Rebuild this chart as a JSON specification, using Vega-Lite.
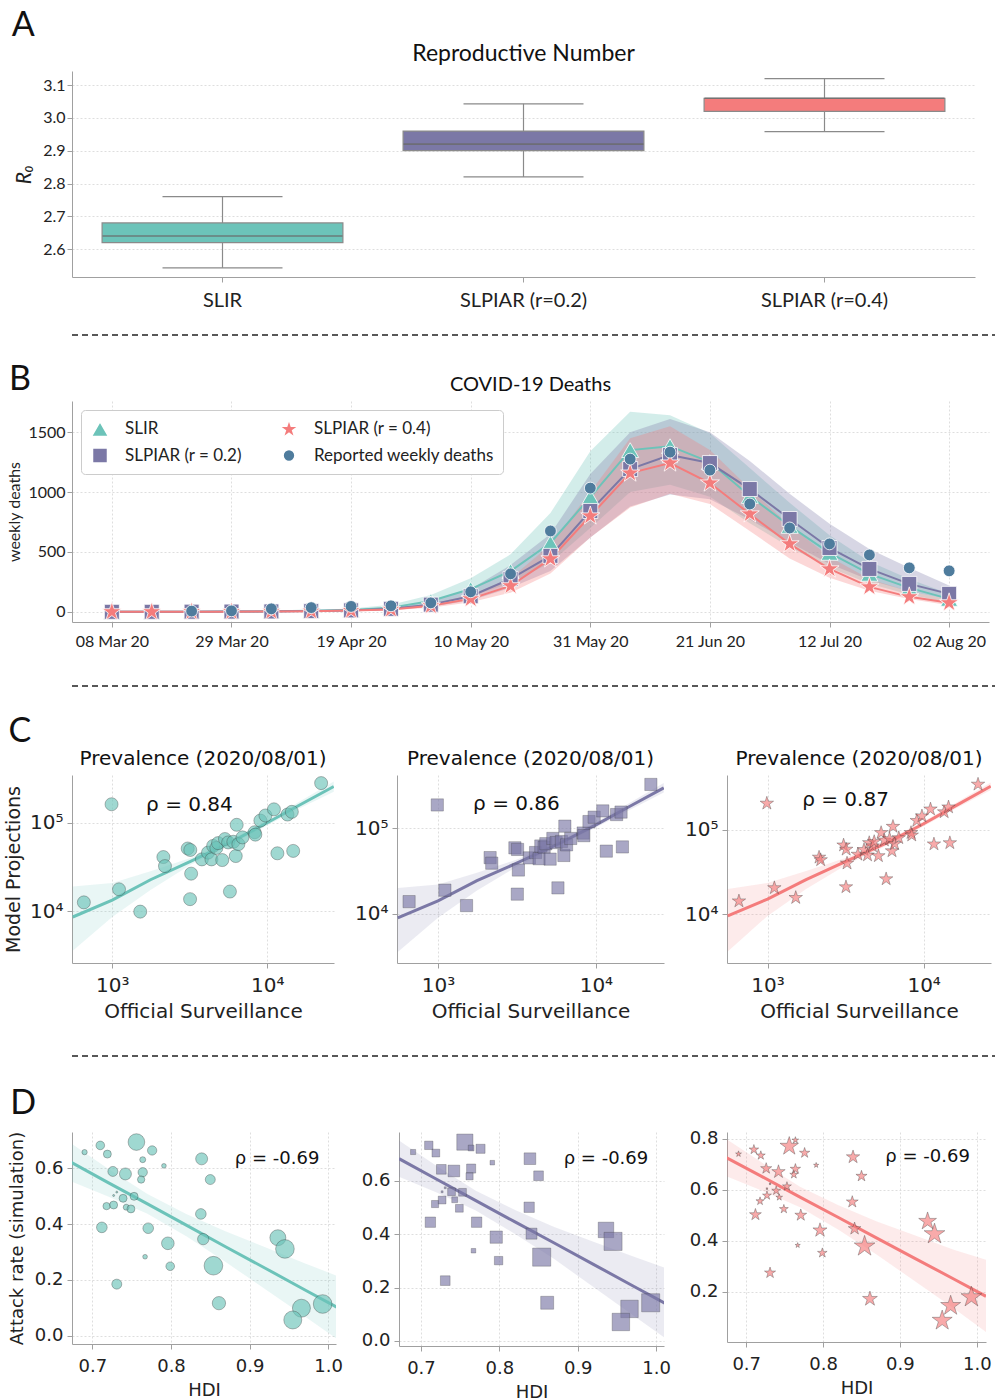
{
  "$schema": "https://vega.github.io/schema/vega-lite/v6.json",
  "background": "white",
  "padding": {"left": 4, "top": 9, "right": 0, "bottom": 0},
  "spacing": 10,
  "resolve": {
    "scale": {"color": "independent", "shape": "independent", "size": "independent", "fill": "independent", "stroke": "independent"},
    "legend": {"color": "independent", "shape": "independent", "size": "independent", "fill": "independent", "stroke": "independent"}
  },
  "config": {
    "view": {"stroke": null},
    "font": "Lato",
    "axis": {"domainColor": "#a0a0a0", "tickColor": "#a0a0a0", "gridColor": "#d6d6d6", "gridDash": [2, 2], "gridWidth": 0.8, "labelColor": "#222", "titleColor": "#222", "titleFontWeight": "normal", "labelFlush": false},
    "title": {"fontWeight": "normal", "color": "#111"},
    "legend": {"labelColor": "#222"}
  },
  "datasets": {
    "r0": [
      {"model": "SLIR", "lo": 2.543, "q1": 2.62, "med": 2.64, "q3": 2.68, "hi": 2.76},
      {"model": "SLPIAR (r=0.2)", "lo": 2.82, "q1": 2.90, "med": 2.92, "q3": 2.96, "hi": 3.043},
      {"model": "SLPIAR (r=0.4)", "lo": 2.958, "q1": 3.02, "med": 3.06, "q3": 3.06, "hi": 3.12}
    ],
    "deaths": [
      {"d": "2020-03-08", "s": "SLIR", "v": 0, "lo": 0, "hi": 1},
      {"d": "2020-03-15", "s": "SLIR", "v": 0, "lo": 0, "hi": 1},
      {"d": "2020-03-22", "s": "SLIR", "v": 1, "lo": 0, "hi": 3},
      {"d": "2020-03-29", "s": "SLIR", "v": 2, "lo": 1, "hi": 5},
      {"d": "2020-04-05", "s": "SLIR", "v": 4, "lo": 2, "hi": 8},
      {"d": "2020-04-12", "s": "SLIR", "v": 8, "lo": 5, "hi": 15},
      {"d": "2020-04-19", "s": "SLIR", "v": 15, "lo": 10, "hi": 28},
      {"d": "2020-04-26", "s": "SLIR", "v": 35, "lo": 25, "hi": 60},
      {"d": "2020-05-03", "s": "SLIR", "v": 90, "lo": 60, "hi": 140},
      {"d": "2020-05-10", "s": "SLIR", "v": 190, "lo": 130, "hi": 280},
      {"d": "2020-05-17", "s": "SLIR", "v": 340, "lo": 240, "hi": 480},
      {"d": "2020-05-24", "s": "SLIR", "v": 575, "lo": 410, "hi": 825},
      {"d": "2020-05-31", "s": "SLIR", "v": 958, "lo": 700, "hi": 1340},
      {"d": "2020-06-07", "s": "SLIR", "v": 1350, "lo": 1000, "hi": 1670},
      {"d": "2020-06-14", "s": "SLIR", "v": 1383, "lo": 1060, "hi": 1640},
      {"d": "2020-06-21", "s": "SLIR", "v": 1250, "lo": 960, "hi": 1490},
      {"d": "2020-06-28", "s": "SLIR", "v": 967, "lo": 740, "hi": 1200},
      {"d": "2020-07-05", "s": "SLIR", "v": 717, "lo": 540, "hi": 910},
      {"d": "2020-07-12", "s": "SLIR", "v": 492, "lo": 370, "hi": 640},
      {"d": "2020-07-19", "s": "SLIR", "v": 317, "lo": 235, "hi": 420},
      {"d": "2020-07-26", "s": "SLIR", "v": 200, "lo": 145, "hi": 275},
      {"d": "2020-08-02", "s": "SLIR", "v": 108, "lo": 75, "hi": 150},
      {"d": "2020-03-08", "s": "SLPIAR (r = 0.2)", "v": 0, "lo": 0, "hi": 1},
      {"d": "2020-03-15", "s": "SLPIAR (r = 0.2)", "v": 0, "lo": 0, "hi": 1},
      {"d": "2020-03-22", "s": "SLPIAR (r = 0.2)", "v": 1, "lo": 0, "hi": 2},
      {"d": "2020-03-29", "s": "SLPIAR (r = 0.2)", "v": 2, "lo": 1, "hi": 4},
      {"d": "2020-04-05", "s": "SLPIAR (r = 0.2)", "v": 3, "lo": 2, "hi": 6},
      {"d": "2020-04-12", "s": "SLPIAR (r = 0.2)", "v": 6, "lo": 4, "hi": 10},
      {"d": "2020-04-19", "s": "SLPIAR (r = 0.2)", "v": 12, "lo": 8, "hi": 20},
      {"d": "2020-04-26", "s": "SLPIAR (r = 0.2)", "v": 25, "lo": 18, "hi": 40},
      {"d": "2020-05-03", "s": "SLPIAR (r = 0.2)", "v": 60, "lo": 42, "hi": 90},
      {"d": "2020-05-10", "s": "SLPIAR (r = 0.2)", "v": 130, "lo": 95, "hi": 190},
      {"d": "2020-05-17", "s": "SLPIAR (r = 0.2)", "v": 275, "lo": 200, "hi": 390},
      {"d": "2020-05-24", "s": "SLPIAR (r = 0.2)", "v": 467, "lo": 340, "hi": 650},
      {"d": "2020-05-31", "s": "SLPIAR (r = 0.2)", "v": 842, "lo": 620, "hi": 1150},
      {"d": "2020-06-07", "s": "SLPIAR (r = 0.2)", "v": 1192, "lo": 880, "hi": 1500},
      {"d": "2020-06-14", "s": "SLPIAR (r = 0.2)", "v": 1308, "lo": 980, "hi": 1610},
      {"d": "2020-06-21", "s": "SLPIAR (r = 0.2)", "v": 1242, "lo": 940, "hi": 1500},
      {"d": "2020-06-28", "s": "SLPIAR (r = 0.2)", "v": 1025, "lo": 770, "hi": 1260},
      {"d": "2020-07-05", "s": "SLPIAR (r = 0.2)", "v": 775, "lo": 580, "hi": 985},
      {"d": "2020-07-12", "s": "SLPIAR (r = 0.2)", "v": 533, "lo": 400, "hi": 735},
      {"d": "2020-07-19", "s": "SLPIAR (r = 0.2)", "v": 358, "lo": 265, "hi": 525},
      {"d": "2020-07-26", "s": "SLPIAR (r = 0.2)", "v": 233, "lo": 170, "hi": 367},
      {"d": "2020-08-02", "s": "SLPIAR (r = 0.2)", "v": 150, "lo": 105, "hi": 220},
      {"d": "2020-03-08", "s": "SLPIAR (r = 0.4)", "v": 0, "lo": 0, "hi": 1},
      {"d": "2020-03-15", "s": "SLPIAR (r = 0.4)", "v": 0, "lo": 0, "hi": 1},
      {"d": "2020-03-22", "s": "SLPIAR (r = 0.4)", "v": 1, "lo": 0, "hi": 2},
      {"d": "2020-03-29", "s": "SLPIAR (r = 0.4)", "v": 1, "lo": 0, "hi": 2},
      {"d": "2020-04-05", "s": "SLPIAR (r = 0.4)", "v": 3, "lo": 2, "hi": 5},
      {"d": "2020-04-12", "s": "SLPIAR (r = 0.4)", "v": 5, "lo": 3, "hi": 8},
      {"d": "2020-04-19", "s": "SLPIAR (r = 0.4)", "v": 10, "lo": 6, "hi": 15},
      {"d": "2020-04-26", "s": "SLPIAR (r = 0.4)", "v": 20, "lo": 13, "hi": 28},
      {"d": "2020-05-03", "s": "SLPIAR (r = 0.4)", "v": 50, "lo": 35, "hi": 68},
      {"d": "2020-05-10", "s": "SLPIAR (r = 0.4)", "v": 108, "lo": 80, "hi": 140},
      {"d": "2020-05-17", "s": "SLPIAR (r = 0.4)", "v": 217, "lo": 160, "hi": 280},
      {"d": "2020-05-24", "s": "SLPIAR (r = 0.4)", "v": 442, "lo": 320, "hi": 560},
      {"d": "2020-05-31", "s": "SLPIAR (r = 0.4)", "v": 800, "lo": 620, "hi": 1000},
      {"d": "2020-06-07", "s": "SLPIAR (r = 0.4)", "v": 1158, "lo": 870, "hi": 1450},
      {"d": "2020-06-14", "s": "SLPIAR (r = 0.4)", "v": 1242, "lo": 985, "hi": 1550},
      {"d": "2020-06-21", "s": "SLPIAR (r = 0.4)", "v": 1075, "lo": 900, "hi": 1350},
      {"d": "2020-06-28", "s": "SLPIAR (r = 0.4)", "v": 817, "lo": 675, "hi": 1030},
      {"d": "2020-07-05", "s": "SLPIAR (r = 0.4)", "v": 567, "lo": 445, "hi": 720},
      {"d": "2020-07-12", "s": "SLPIAR (r = 0.4)", "v": 358, "lo": 285, "hi": 460},
      {"d": "2020-07-19", "s": "SLPIAR (r = 0.4)", "v": 208, "lo": 175, "hi": 275},
      {"d": "2020-07-26", "s": "SLPIAR (r = 0.4)", "v": 125, "lo": 108, "hi": 170},
      {"d": "2020-08-02", "s": "SLPIAR (r = 0.4)", "v": 75, "lo": 55, "hi": 105},
      {"d": "2020-03-22", "s": "Reported weekly deaths", "v": 6},
      {"d": "2020-03-29", "s": "Reported weekly deaths", "v": 8},
      {"d": "2020-04-05", "s": "Reported weekly deaths", "v": 25},
      {"d": "2020-04-12", "s": "Reported weekly deaths", "v": 35},
      {"d": "2020-04-19", "s": "Reported weekly deaths", "v": 45},
      {"d": "2020-04-26", "s": "Reported weekly deaths", "v": 50},
      {"d": "2020-05-03", "s": "Reported weekly deaths", "v": 75},
      {"d": "2020-05-10", "s": "Reported weekly deaths", "v": 167},
      {"d": "2020-05-17", "s": "Reported weekly deaths", "v": 317},
      {"d": "2020-05-24", "s": "Reported weekly deaths", "v": 675},
      {"d": "2020-05-31", "s": "Reported weekly deaths", "v": 1033},
      {"d": "2020-06-07", "s": "Reported weekly deaths", "v": 1275},
      {"d": "2020-06-14", "s": "Reported weekly deaths", "v": 1333},
      {"d": "2020-06-21", "s": "Reported weekly deaths", "v": 1183},
      {"d": "2020-06-28", "s": "Reported weekly deaths", "v": 900},
      {"d": "2020-07-05", "s": "Reported weekly deaths", "v": 700},
      {"d": "2020-07-12", "s": "Reported weekly deaths", "v": 567},
      {"d": "2020-07-19", "s": "Reported weekly deaths", "v": 475},
      {"d": "2020-07-26", "s": "Reported weekly deaths", "v": 367},
      {"d": "2020-08-02", "s": "Reported weekly deaths", "v": 342}
    ],
    "prev": [
      {"official": 656, "a": 12600, "b": 13800, "c": 14300},
      {"official": 990, "a": 162000, "b": 188000, "c": 205000},
      {"official": 1106, "a": 17700, "b": 18800, "c": 20500},
      {"official": 1516, "a": 9900, "b": 12400, "c": 15700},
      {"official": 2138, "a": 41000, "b": 45300, "c": 47100},
      {"official": 2190, "a": 32400, "b": 39000, "c": 43900},
      {"official": 3070, "a": 51200, "b": 59000, "c": 65600},
      {"official": 3190, "a": 49300, "b": 56500, "c": 58500},
      {"official": 3230, "a": 26600, "b": 32400, "c": 40100},
      {"official": 3180, "a": 13700, "b": 16900, "c": 21000},
      {"official": 3790, "a": 38600, "b": 45000, "c": 51000},
      {"official": 4150, "a": 46000, "b": 52000, "c": 58000},
      {"official": 4370, "a": 38600, "b": 44000, "c": 50000},
      {"official": 4480, "a": 54800, "b": 62000, "c": 70000},
      {"official": 4700, "a": 52000, "b": 60000, "c": 64000},
      {"official": 4820, "a": 58900, "b": 66000, "c": 72000},
      {"official": 5130, "a": 37900, "b": 43500, "c": 49000},
      {"official": 5340, "a": 65500, "b": 76000, "c": 92000},
      {"official": 5600, "a": 60000, "b": 68000, "c": 75000},
      {"official": 5750, "a": 16700, "b": 20000, "c": 26100},
      {"official": 6050, "a": 61000, "b": 70000, "c": 78000},
      {"official": 6270, "a": 42100, "b": 48000, "c": 56000},
      {"official": 6360, "a": 94900, "b": 106000, "c": 109000},
      {"official": 6520, "a": 57400, "b": 64000, "c": 68000},
      {"official": 6930, "a": 68400, "b": 76000, "c": 80000},
      {"official": 8300, "a": 78200, "b": 88000, "c": 92000},
      {"official": 8390, "a": 73500, "b": 82000, "c": 86000},
      {"official": 9040, "a": 106000, "b": 120000, "c": 128000},
      {"official": 9750, "a": 121000, "b": 135000, "c": 145000},
      {"official": 11060, "a": 142000, "b": 160000, "c": 175000},
      {"official": 11640, "a": 45200, "b": 54000, "c": 67500},
      {"official": 13530, "a": 124000, "b": 145000, "c": 162000},
      {"official": 14430, "a": 133000, "b": 155000, "c": 185000},
      {"official": 14720, "a": 48100, "b": 60500, "c": 69800},
      {"official": 22300, "a": 281000, "b": 327000, "c": 344000}
    ],
    "cfit": [
      {"x": 556, "f1": 8610, "l1": 3565, "h1": 19050, "f2": 8900, "l2": 3550, "h2": 19950, "f3": 9550, "l3": 3630, "h3": 19950},
      {"x": 1000, "f1": 13370, "l1": 8610, "h1": 20800, "f2": 14100, "l2": 8900, "h2": 21900, "f3": 15100, "l3": 9550, "h3": 23400},
      {"x": 1766, "f1": 22700, "l1": 17400, "h1": 28300, "f2": 24300, "l2": 18600, "h2": 30200, "f3": 25700, "l3": 19950, "h3": 32400},
      {"x": 3228, "f1": 36900, "l1": 33800, "h1": 40300, "f2": 39800, "l2": 36300, "h2": 43600, "f3": 42700, "l3": 38900, "h3": 46800},
      {"x": 5902, "f1": 61000, "l1": 56900, "h1": 65500, "f2": 66800, "l2": 62400, "h2": 71600, "f3": 70800, "l3": 66100, "h3": 75900},
      {"x": 10000, "f1": 100000, "l1": 93100, "h1": 106400, "f2": 109600, "l2": 102300, "h2": 117500, "f3": 117500, "l3": 109600, "h3": 125900},
      {"x": 16106, "f1": 158000, "l1": 145000, "h1": 173000, "f2": 178000, "l2": 162000, "h2": 195000, "f3": 193000, "l3": 178000, "h3": 209000},
      {"x": 26900, "f1": 257000, "l1": 225000, "h1": 293000, "f2": 298500, "l2": 263000, "h2": 339000, "f3": 327000, "l3": 295000, "h3": 363000}
    ],
    "attack": [
      {"hdi": 0.690, "pop": 3.6, "a1": 0.657, "a2": 0.708, "a3": 0.741},
      {"hdi": 0.710, "pop": 9.6, "a1": 0.681, "a2": 0.733, "a3": 0.758},
      {"hdi": 0.719, "pop": 8.2, "a1": 0.650, "a2": 0.704, "a3": 0.735},
      {"hdi": 0.756, "pop": 35.6, "a1": 0.693, "a2": 0.745, "a3": 0.771},
      {"hdi": 0.776, "pop": 11.2, "a1": 0.663, "a2": 0.720, "a3": 0.745},
      {"hdi": 0.764, "pop": 4.6, "a1": 0.630, "a2": 0.723, "a3": 0.795},
      {"hdi": 0.791, "pop": 2.8, "a1": 0.608, "a2": 0.668, "a3": 0.697},
      {"hdi": 0.839, "pop": 18.5, "a1": 0.633, "a2": 0.683, "a3": 0.729},
      {"hdi": 0.726, "pop": 12.8, "a1": 0.588, "a2": 0.643, "a3": 0.684},
      {"hdi": 0.742, "pop": 18.5, "a1": 0.579, "a2": 0.637, "a3": 0.671},
      {"hdi": 0.764, "pop": 11.2, "a1": 0.585, "a2": 0.646, "a3": 0.682},
      {"hdi": 0.762, "pop": 6.9, "a1": 0.559, "a2": 0.617, "a3": 0.660},
      {"hdi": 0.850, "pop": 12.8, "a1": 0.559, "a2": 0.619, "a3": 0.654},
      {"hdi": 0.727, "pop": 0.5, "a1": 0.502, "a2": 0.559, "a3": 0.605},
      {"hdi": 0.731, "pop": 0.5, "a1": 0.514, "a2": 0.574, "a3": 0.624},
      {"hdi": 0.739, "pop": 8.2, "a1": 0.492, "a2": 0.559, "a3": 0.597},
      {"hdi": 0.753, "pop": 8.2, "a1": 0.499, "a2": 0.557, "a3": 0.614},
      {"hdi": 0.718, "pop": 6.9, "a1": 0.464, "a2": 0.513, "a3": 0.556},
      {"hdi": 0.727, "pop": 8.2, "a1": 0.468, "a2": 0.528, "a3": 0.578},
      {"hdi": 0.743, "pop": 4.6, "a1": 0.460, "a2": 0.529, "a3": 0.571},
      {"hdi": 0.749, "pop": 8.2, "a1": 0.454, "a2": 0.497, "a3": 0.525},
      {"hdi": 0.838, "pop": 14.6, "a1": 0.436, "a2": 0.501, "a3": 0.553},
      {"hdi": 0.712, "pop": 14.6, "a1": 0.388, "a2": 0.445, "a3": 0.503},
      {"hdi": 0.771, "pop": 14.6, "a1": 0.385, "a2": 0.445, "a3": 0.501},
      {"hdi": 0.841, "pop": 16.5, "a1": 0.346, "a2": 0.402, "a3": 0.448},
      {"hdi": 0.796, "pop": 20.6, "a1": 0.331, "a2": 0.389, "a3": 0.442},
      {"hdi": 0.936, "pop": 32.8, "a1": 0.351, "a2": 0.416, "a3": 0.477},
      {"hdi": 0.945, "pop": 44.7, "a1": 0.311, "a2": 0.373, "a3": 0.427},
      {"hdi": 0.767, "pop": 2.8, "a1": 0.283, "a2": 0.338, "a3": 0.383},
      {"hdi": 0.799, "pop": 9.6, "a1": 0.249, "a2": 0.301, "a3": 0.353},
      {"hdi": 0.854, "pop": 44.7, "a1": 0.251, "a2": 0.314, "a3": 0.379},
      {"hdi": 0.731, "pop": 12.8, "a1": 0.185, "a2": 0.226, "a3": 0.275},
      {"hdi": 0.861, "pop": 22.8, "a1": 0.117, "a2": 0.143, "a3": 0.173},
      {"hdi": 0.966, "pop": 41.6, "a1": 0.099, "a2": 0.120, "a3": 0.146},
      {"hdi": 0.993, "pop": 44.7, "a1": 0.114, "a2": 0.143, "a3": 0.180},
      {"hdi": 0.955, "pop": 41.6, "a1": 0.057, "a2": 0.071, "a3": 0.088}
    ],
    "dfit": [
      {"hdi": 0.672, "f1": 0.622, "l1": 0.553, "h1": 0.690, "f2": 0.683, "l2": 0.615, "h2": 0.751, "f3": 0.730, "l3": 0.656, "h3": 0.804},
      {"hdi": 0.72, "f1": 0.548, "l1": 0.498, "h1": 0.598, "f2": 0.606, "l2": 0.556, "h2": 0.656, "f3": 0.653, "l3": 0.598, "h3": 0.708},
      {"hdi": 0.77, "f1": 0.472, "l1": 0.437, "h1": 0.507, "f2": 0.526, "l2": 0.489, "h2": 0.563, "f3": 0.572, "l3": 0.532, "h3": 0.612},
      {"hdi": 0.82, "f1": 0.395, "l1": 0.355, "h1": 0.435, "f2": 0.446, "l2": 0.401, "h2": 0.491, "f3": 0.492, "l3": 0.444, "h3": 0.540},
      {"hdi": 0.87, "f1": 0.318, "l1": 0.263, "h1": 0.373, "f2": 0.367, "l2": 0.307, "h2": 0.427, "f3": 0.411, "l3": 0.346, "h3": 0.476},
      {"hdi": 0.92, "f1": 0.242, "l1": 0.167, "h1": 0.317, "f2": 0.287, "l2": 0.202, "h2": 0.372, "f3": 0.331, "l3": 0.241, "h3": 0.421},
      {"hdi": 0.97, "f1": 0.165, "l1": 0.070, "h1": 0.260, "f2": 0.207, "l2": 0.097, "h2": 0.317, "f3": 0.251, "l3": 0.136, "h3": 0.366},
      {"hdi": 1.012, "f1": 0.101, "l1": -0.012, "h1": 0.214, "f2": 0.140, "l2": 0.010, "h2": 0.273, "f3": 0.183, "l3": 0.043, "h3": 0.326}
    ]
  },
  "vconcat": [
    {
      "title": {"text": "A", "anchor": "start", "fontSize": 34, "font": "Lato", "dx": -2, "offset": 0},
      "vconcat": [
        {
          "title": {"text": "Reproductive Number", "fontSize": 23, "font": "Lato", "offset": 5},
          "width": 903,
          "height": 206,
          "data": {"name": "r0"},
          "encoding": {
            "x": {"field": "model", "type": "nominal", "sort": null, "scale": {"paddingInner": 0, "paddingOuter": 0},
                  "axis": {"title": null, "labelAngle": 0, "labelFontSize": 20, "labelFont": "Lato", "labelPadding": 8, "tickSize": 5, "grid": false}}
          },
          "layer": [
            {"mark": {"type": "rule", "color": "#8a8a8a", "strokeWidth": 1.2},
             "encoding": {
               "y": {"field": "lo", "type": "quantitative", "scale": {"domain": [2.515, 3.143], "nice": false, "zero": false},
                     "axis": {"title": "R₀", "titleFontSize": 21, "titleFontStyle": "italic", "titlePadding": 8, "values": [2.6, 2.7, 2.8, 2.9, 3.0, 3.1], "format": ".1f", "labelFontSize": 16, "grid": true, "tickSize": 5}},
               "y2": {"field": "hi"}}},
            {"mark": {"type": "bar", "width": {"band": 0.8}, "stroke": "#8a8a8a", "strokeWidth": 1.2, "opacity": 1},
             "encoding": {
               "y": {"field": "q1", "type": "quantitative"},
               "y2": {"field": "q3"},
               "color": {"field": "model", "type": "nominal", "sort": null, "scale": {"domain": ["SLIR", "SLPIAR (r=0.2)", "SLPIAR (r=0.4)"], "range": ["#6cc3b9", "#7b78a6", "#f47c7c"]}, "legend": null}}},
            {"mark": {"type": "tick", "color": "#6a6a6a", "size": 240, "thickness": 1.6, "opacity": 0.8},
             "encoding": {"y": {"field": "med", "type": "quantitative"}}},
            {"mark": {"type": "tick", "color": "#8a8a8a", "size": 120, "thickness": 1.2, "opacity": 1},
             "encoding": {"y": {"field": "lo", "type": "quantitative"}}},
            {"mark": {"type": "tick", "color": "#8a8a8a", "size": 120, "thickness": 1.2, "opacity": 1},
             "encoding": {"y": {"field": "hi", "type": "quantitative"}}}
          ]
        }
      ]
    },
    {
      "width": 981, "height": 33,
      "data": {"values": [{}]},
      "mark": {"type": "rule", "strokeDash": [6, 4], "color": "#222", "strokeWidth": 1.3},
      "encoding": {
        "x": {"datum": 0, "type": "quantitative", "scale": {"domain": [0, 1]}, "axis": null},
        "x2": {"datum": 1},
        "y": {"datum": 0.545, "type": "quantitative", "scale": {"domain": [0, 1]}, "axis": null}
      }
    },
    {
      "title": {"text": "B", "anchor": "start", "fontSize": 34, "font": "Lato", "dx": 2, "offset": -22},
      "vconcat": [
        {
          "title": {"text": "COVID-19 Deaths", "fontSize": 20, "font": "Lato", "offset": 6},
          "width": 917,
          "height": 221,
          "data": {"name": "deaths"},
          "encoding": {
            "x": {"field": "d", "type": "temporal",
                  "scale": {"type": "utc", "domain": [{"year": 2020, "month": 3, "date": 1, "utc": true}, {"year": 2020, "month": 8, "date": 9, "utc": true}]},
                  "axis": {"title": null, "labelExpr": "utcFormat(datum.value, '%d %b %y')", "labelFontSize": 16, "labelPadding": 6, "grid": true, "tickSize": 5,
                           "values": [
                             {"year": 2020, "month": 3, "date": 8, "utc": true},
                             {"year": 2020, "month": 3, "date": 29, "utc": true},
                             {"year": 2020, "month": 4, "date": 19, "utc": true},
                             {"year": 2020, "month": 5, "date": 10, "utc": true},
                             {"year": 2020, "month": 5, "date": 31, "utc": true},
                             {"year": 2020, "month": 6, "date": 21, "utc": true},
                             {"year": 2020, "month": 7, "date": 12, "utc": true},
                             {"year": 2020, "month": 8, "date": 2, "utc": true}
                           ]}}
          },
          "layer": [
            {"transform": [{"filter": "datum.s !== 'Reported weekly deaths'"}],
             "mark": {"type": "area", "fillOpacity": 0.3},
             "encoding": {
               "y": {"field": "lo", "type": "quantitative", "scale": {"domain": [-85, 1760], "nice": false, "zero": false},
                     "axis": {"title": "weekly deaths", "titleFontSize": 16, "titlePadding": 5, "values": [0, 500, 1000, 1500], "format": "d", "labelFontSize": 16, "grid": true, "tickSize": 5}},
               "y2": {"field": "hi"},
               "fill": {"field": "s", "type": "nominal", "legend": null,
                        "scale": {"domain": ["SLIR", "SLPIAR (r = 0.2)", "SLPIAR (r = 0.4)"], "range": ["#6cc3b9", "#7b78a6", "#f47c7c"]}}}},
            {"transform": [{"filter": "datum.s !== 'Reported weekly deaths'"}],
             "mark": {"type": "line", "strokeWidth": 2},
             "encoding": {
               "y": {"field": "v", "type": "quantitative"},
               "stroke": {"field": "s", "type": "nominal", "legend": null,
                          "scale": {"domain": ["SLIR", "SLPIAR (r = 0.2)", "SLPIAR (r = 0.4)"], "range": ["#6cc3b9", "#7b78a6", "#f47c7c"]}}}},
            {"mark": {"type": "point", "filled": true, "opacity": 1, "stroke": "white", "strokeWidth": 0.8},
             "encoding": {
               "y": {"field": "v", "type": "quantitative"},
               "color": {"field": "s", "type": "nominal",
                         "scale": {"domain": ["SLIR", "SLPIAR (r = 0.2)", "SLPIAR (r = 0.4)", "Reported weekly deaths"], "range": ["#6cc3b9", "#7b78a6", "#f47c7c", "#4f7c9d"]},
                         "legend": {"title": null, "orient": "top-left", "columns": 2, "offset": 9, "fillColor": "white", "strokeColor": "#cccccc", "padding": 8, "cornerRadius": 4, "labelFontSize": 17, "labelFont": "Lato", "columnPadding": 34, "rowPadding": 4, "labelOffset": 14, "labelLimit": 300,
                                    "encode": {"symbols": {"update": {"size": {"signal": "datum.value === 'Reported weekly deaths' ? 90 : (datum.value === 'SLPIAR (r = 0.4)' ? 380 : 260)"}}}}}},
               "shape": {"field": "s", "type": "nominal",
                         "scale": {"domain": ["SLIR", "SLPIAR (r = 0.2)", "SLPIAR (r = 0.4)", "Reported weekly deaths"], "range": ["triangle-up", "square", "M0,-1L0.2245,-0.309L0.951,-0.309L0.363,0.118L0.588,0.809L0,0.382L-0.588,0.809L-0.363,0.118L-0.951,-0.309L-0.2245,-0.309Z", "circle"]},
                         "legend": {"title": null, "orient": "top-left", "columns": 2, "offset": 9, "fillColor": "white", "strokeColor": "#cccccc", "padding": 8, "cornerRadius": 4, "labelFontSize": 17, "labelFont": "Lato", "columnPadding": 34, "rowPadding": 4, "labelOffset": 14, "labelLimit": 300,
                                    "encode": {"symbols": {"update": {"size": {"signal": "datum.value === 'Reported weekly deaths' ? 90 : (datum.value === 'SLPIAR (r = 0.4)' ? 380 : 260)"}}}}}},
               "size": {"field": "s", "type": "nominal",
                        "scale": {"type": "ordinal", "domain": ["SLIR", "SLPIAR (r = 0.2)", "SLPIAR (r = 0.4)", "Reported weekly deaths"], "range": [290, 225, 400, 140]},
                        "legend": {"title": null, "orient": "top-left", "columns": 2, "offset": 9, "fillColor": "white", "strokeColor": "#cccccc", "padding": 8, "cornerRadius": 4, "labelFontSize": 17, "labelFont": "Lato", "columnPadding": 34, "rowPadding": 4, "labelOffset": 14, "labelLimit": 300,
                                   "encode": {"symbols": {"update": {"size": {"signal": "datum.value === 'Reported weekly deaths' ? 90 : (datum.value === 'SLPIAR (r = 0.4)' ? 380 : 260)"}}}}}}}}
          ]
        }
      ]
    },
    {
      "width": 981, "height": 46,
      "data": {"values": [{}]},
      "mark": {"type": "rule", "strokeDash": [6, 4], "color": "#222", "strokeWidth": 1.3},
      "encoding": {
        "x": {"datum": 0, "type": "quantitative", "scale": {"domain": [0, 1]}, "axis": null},
        "x2": {"datum": 1},
        "y": {"datum": 0.413, "type": "quantitative", "scale": {"domain": [0, 1]}, "axis": null}
      }
    },
    {
      "title": {"text": "C", "anchor": "start", "fontSize": 34, "font": "Lato", "dx": 4, "offset": 0},
      "spacing": 20,
      "hconcat": [
        {
          "title": {"text": "Prevalence (2020/08/01)", "fontSize": 20, "font": "DejaVu Sans", "offset": 6},
          "width": 262, "height": 188,
          "layer": [
            {"data": {"name": "cfit"}, "mark": {"type": "area", "color": "#6cc3b9", "opacity": 0.15, "clip": true},
             "encoding": {
               "x": {"field": "x", "type": "quantitative", "scale": {"type": "log", "domain": [550, 27000], "nice": false},
                     "axis": {"title": "Official Surveillance", "values": [1000, 10000], "labelExpr": "datum.value == 1000 ? '10³' : '10⁴'", "labelFontSize": 20, "labelFont": "DejaVu Sans", "titleFont": "DejaVu Sans", "titleFontSize": 20, "grid": true, "tickSize": 5, "labelPadding": 7, "titlePadding": 6}},
               "y": {"field": "l1", "type": "quantitative", "scale": {"type": "log", "domain": [2600, 347000], "nice": false},
                     "axis": {"title": "Model Projections", "values": [10000, 100000], "labelExpr": "datum.value == 10000 ? '10⁴' : '10⁵'", "labelFontSize": 20, "labelFont": "DejaVu Sans", "titleFont": "DejaVu Sans", "titleFontSize": 19, "grid": true, "tickSize": 5, "labelPadding": 4, "titlePadding": 6}},
               "y2": {"field": "h1"}}},
            {"data": {"name": "cfit"}, "mark": {"type": "line", "color": "#6cc3b9", "strokeWidth": 3, "clip": true},
             "encoding": {"x": {"field": "x", "type": "quantitative"}, "y": {"field": "f1", "type": "quantitative"}}},
            {"data": {"name": "prev"}, "mark": {"type": "point", "shape": "circle", "filled": true, "color": "#6cc3b9", "opacity": 1, "fillOpacity": 0.65, "stroke": "#3a3a3a", "strokeOpacity": 0.5, "strokeWidth": 0.7, "size": 170},
             "encoding": {"x": {"field": "official", "type": "quantitative"}, "y": {"field": "a", "type": "quantitative"}}},
            {"data": {"values": [{}]}, "mark": {"type": "text", "text": "ρ = 0.84", "fontSize": 20, "font": "DejaVu Sans", "color": "#111"},
             "encoding": {"x": {"datum": 3150, "type": "quantitative"}, "y": {"datum": 160000, "type": "quantitative"}}}
          ]
        },
        {
          "title": {"text": "Prevalence (2020/08/01)", "fontSize": 20, "font": "DejaVu Sans", "offset": 6},
          "width": 267, "height": 188,
          "layer": [
            {"data": {"name": "cfit"}, "mark": {"type": "area", "color": "#7b78a6", "opacity": 0.15, "clip": true},
             "encoding": {
               "x": {"field": "x", "type": "quantitative", "scale": {"type": "log", "domain": [550, 27000], "nice": false},
                     "axis": {"title": "Official Surveillance", "values": [1000, 10000], "labelExpr": "datum.value == 1000 ? '10³' : '10⁴'", "labelFontSize": 20, "labelFont": "DejaVu Sans", "titleFont": "DejaVu Sans", "titleFontSize": 20, "grid": true, "tickSize": 5, "labelPadding": 7, "titlePadding": 6}},
               "y": {"field": "l2", "type": "quantitative", "scale": {"type": "log", "domain": [2630, 422000], "nice": false},
                     "axis": {"title": null, "values": [10000, 100000], "labelExpr": "datum.value == 10000 ? '10⁴' : '10⁵'", "labelFontSize": 20, "labelFont": "DejaVu Sans", "grid": true, "tickSize": 5, "labelPadding": 4}},
               "y2": {"field": "h2"}}},
            {"data": {"name": "cfit"}, "mark": {"type": "line", "color": "#7b78a6", "strokeWidth": 3, "clip": true},
             "encoding": {"x": {"field": "x", "type": "quantitative"}, "y": {"field": "f2", "type": "quantitative"}}},
            {"data": {"name": "prev"}, "mark": {"type": "point", "shape": "square", "filled": true, "color": "#7b78a6", "opacity": 1, "fillOpacity": 0.65, "stroke": "#3a3a3a", "strokeOpacity": 0.4, "strokeWidth": 0.7, "size": 150},
             "encoding": {"x": {"field": "official", "type": "quantitative"}, "y": {"field": "b", "type": "quantitative"}}},
            {"data": {"values": [{}]}, "mark": {"type": "text", "text": "ρ = 0.86", "fontSize": 20, "font": "DejaVu Sans", "color": "#111"},
             "encoding": {"x": {"datum": 3140, "type": "quantitative"}, "y": {"datum": 192000, "type": "quantitative"}}}
          ]
        },
        {
          "title": {"text": "Prevalence (2020/08/01)", "fontSize": 20, "font": "DejaVu Sans", "offset": 6},
          "width": 264, "height": 188,
          "layer": [
            {"data": {"name": "cfit"}, "mark": {"type": "area", "color": "#f47c7c", "opacity": 0.15, "clip": true},
             "encoding": {
               "x": {"field": "x", "type": "quantitative", "scale": {"type": "log", "domain": [550, 27000], "nice": false},
                     "axis": {"title": "Official Surveillance", "values": [1000, 10000], "labelExpr": "datum.value == 1000 ? '10³' : '10⁴'", "labelFontSize": 20, "labelFont": "DejaVu Sans", "titleFont": "DejaVu Sans", "titleFontSize": 20, "grid": true, "tickSize": 5, "labelPadding": 7, "titlePadding": 6}},
               "y": {"field": "l3", "type": "quantitative", "scale": {"type": "log", "domain": [2650, 444000], "nice": false},
                     "axis": {"title": null, "values": [10000, 100000], "labelExpr": "datum.value == 10000 ? '10⁴' : '10⁵'", "labelFontSize": 20, "labelFont": "DejaVu Sans", "grid": true, "tickSize": 5, "labelPadding": 4}},
               "y2": {"field": "h3"}}},
            {"data": {"name": "cfit"}, "mark": {"type": "line", "color": "#f47c7c", "strokeWidth": 3, "clip": true},
             "encoding": {"x": {"field": "x", "type": "quantitative"}, "y": {"field": "f3", "type": "quantitative"}}},
            {"data": {"name": "prev"}, "mark": {"type": "point", "shape": "M0,-1L0.2245,-0.309L0.951,-0.309L0.363,0.118L0.588,0.809L0,0.382L-0.588,0.809L-0.363,0.118L-0.951,-0.309L-0.2245,-0.309Z", "filled": true, "color": "#f47c7c", "opacity": 1, "fillOpacity": 0.65, "stroke": "#3a3a3a", "strokeOpacity": 0.5, "strokeWidth": 0.7, "size": 200},
             "encoding": {"x": {"field": "official", "type": "quantitative"}, "y": {"field": "c", "type": "quantitative"}}},
            {"data": {"values": [{}]}, "mark": {"type": "text", "text": "ρ = 0.87", "fontSize": 20, "font": "DejaVu Sans", "color": "#111"},
             "encoding": {"x": {"datum": 3160, "type": "quantitative"}, "y": {"datum": 225000, "type": "quantitative"}}}
          ]
        }
      ]
    },
    {
      "width": 981, "height": 45,
      "data": {"values": [{}]},
      "mark": {"type": "rule", "strokeDash": [6, 4], "color": "#222", "strokeWidth": 1.3},
      "encoding": {
        "x": {"datum": 0, "type": "quantitative", "scale": {"domain": [0, 1]}, "axis": null},
        "x2": {"datum": 1},
        "y": {"datum": 0.444, "type": "quantitative", "scale": {"domain": [0, 1]}, "axis": null}
      }
    },
    {
      "title": {"text": "D", "anchor": "start", "fontSize": 34, "font": "Lato", "dx": 2, "offset": 9},
      "spacing": 18,
      "resolve": {"scale": {"size": "independent"}, "legend": {"size": "independent"}},
      "hconcat": [
        {
          "width": 264, "height": 212,
          "layer": [
            {"data": {"name": "dfit"}, "mark": {"type": "area", "color": "#6cc3b9", "opacity": 0.15, "clip": true},
             "encoding": {
               "x": {"field": "hdi", "type": "quantitative", "scale": {"domain": [0.674, 1.01], "nice": false, "zero": false},
                     "axis": {"title": "HDI", "values": [0.7, 0.8, 0.9, 1.0], "format": ".1f", "labelFontSize": 18, "labelFont": "DejaVu Sans", "titleFont": "DejaVu Sans", "titleFontSize": 18, "grid": true, "tickSize": 5, "labelPadding": 8, "titlePadding": 6}},
               "y": {"field": "l1", "type": "quantitative", "scale": {"domain": [-0.029, 0.729], "nice": false, "zero": false},
                     "axis": {"title": "Attack rate (simulation)", "values": [0, 0.2, 0.4, 0.6], "format": ".1f", "labelFontSize": 18, "labelFont": "DejaVu Sans", "titleFont": "DejaVu Sans", "titleFontSize": 18, "grid": true, "tickSize": 5, "labelPadding": 4, "titlePadding": 8}},
               "y2": {"field": "h1"}}},
            {"data": {"name": "dfit"}, "mark": {"type": "line", "color": "#6cc3b9", "strokeWidth": 3, "clip": true},
             "encoding": {"x": {"field": "hdi", "type": "quantitative"}, "y": {"field": "f1", "type": "quantitative"}}},
            {"data": {"name": "attack"}, "mark": {"type": "point", "shape": "circle", "filled": true, "color": "#6cc3b9", "opacity": 1, "fillOpacity": 0.65, "stroke": "#3a3a3a", "strokeOpacity": 0.5, "strokeWidth": 0.7},
             "encoding": {"x": {"field": "hdi", "type": "quantitative"}, "y": {"field": "a1", "type": "quantitative"},
                          "size": {"field": "pop", "type": "quantitative", "scale": {"domain": [0, 45], "range": [0, 350]}, "legend": null}}},
            {"data": {"values": [{}]}, "mark": {"type": "text", "text": "ρ = -0.69", "fontSize": 18, "font": "DejaVu Sans", "color": "#111"},
             "encoding": {"x": {"datum": 0.935, "type": "quantitative"}, "y": {"datum": 0.633, "type": "quantitative"}}}
          ]
        },
        {
          "width": 265, "height": 214,
          "layer": [
            {"data": {"name": "dfit"}, "mark": {"type": "area", "color": "#7b78a6", "opacity": 0.15, "clip": true},
             "encoding": {
               "x": {"field": "hdi", "type": "quantitative", "scale": {"domain": [0.672, 1.01], "nice": false, "zero": false},
                     "axis": {"title": "HDI", "values": [0.7, 0.8, 0.9, 1.0], "format": ".1f", "labelFontSize": 18, "labelFont": "DejaVu Sans", "titleFont": "DejaVu Sans", "titleFontSize": 18, "grid": true, "tickSize": 5, "labelPadding": 8, "titlePadding": 6}},
               "y": {"field": "l2", "type": "quantitative", "scale": {"domain": [-0.019, 0.783], "nice": false, "zero": false},
                     "axis": {"title": null, "values": [0, 0.2, 0.4, 0.6], "format": ".1f", "labelFontSize": 18, "labelFont": "DejaVu Sans", "grid": true, "tickSize": 5, "labelPadding": 4}},
               "y2": {"field": "h2"}}},
            {"data": {"name": "dfit"}, "mark": {"type": "line", "color": "#7b78a6", "strokeWidth": 3, "clip": true},
             "encoding": {"x": {"field": "hdi", "type": "quantitative"}, "y": {"field": "f2", "type": "quantitative"}}},
            {"data": {"name": "attack"}, "mark": {"type": "point", "shape": "square", "filled": true, "color": "#7b78a6", "opacity": 1, "fillOpacity": 0.65, "stroke": "#3a3a3a", "strokeOpacity": 0.4, "strokeWidth": 0.7},
             "encoding": {"x": {"field": "hdi", "type": "quantitative"}, "y": {"field": "a2", "type": "quantitative"},
                          "size": {"field": "pop", "type": "quantitative", "scale": {"domain": [0, 45], "range": [0, 330]}, "legend": null}}},
            {"data": {"values": [{}]}, "mark": {"type": "text", "text": "ρ = -0.69", "fontSize": 18, "font": "DejaVu Sans", "color": "#111"},
             "encoding": {"x": {"datum": 0.936, "type": "quantitative"}, "y": {"datum": 0.683, "type": "quantitative"}}}
          ]
        },
        {
          "width": 259, "height": 210,
          "layer": [
            {"data": {"name": "dfit"}, "mark": {"type": "area", "color": "#f47c7c", "opacity": 0.15, "clip": true},
             "encoding": {
               "x": {"field": "hdi", "type": "quantitative", "scale": {"domain": [0.675, 1.012], "nice": false, "zero": false},
                     "axis": {"title": "HDI", "values": [0.7, 0.8, 0.9, 1.0], "format": ".1f", "labelFontSize": 18, "labelFont": "DejaVu Sans", "titleFont": "DejaVu Sans", "titleFontSize": 18, "grid": true, "tickSize": 5, "labelPadding": 8, "titlePadding": 6}},
               "y": {"field": "l3", "type": "quantitative", "scale": {"domain": [0.004, 0.827], "nice": false, "zero": false},
                     "axis": {"title": null, "values": [0.2, 0.4, 0.6, 0.8], "format": ".1f", "labelFontSize": 18, "labelFont": "DejaVu Sans", "grid": true, "tickSize": 5, "labelPadding": 4}},
               "y2": {"field": "h3"}}},
            {"data": {"name": "dfit"}, "mark": {"type": "line", "color": "#f47c7c", "strokeWidth": 3, "clip": true},
             "encoding": {"x": {"field": "hdi", "type": "quantitative"}, "y": {"field": "f3", "type": "quantitative"}}},
            {"data": {"name": "attack"}, "mark": {"type": "point", "shape": "M0,-1L0.2245,-0.309L0.951,-0.309L0.363,0.118L0.588,0.809L0,0.382L-0.588,0.809L-0.363,0.118L-0.951,-0.309L-0.2245,-0.309Z", "filled": true, "color": "#f47c7c", "opacity": 1, "fillOpacity": 0.65, "stroke": "#3a3a3a", "strokeOpacity": 0.5, "strokeWidth": 0.7},
             "encoding": {"x": {"field": "hdi", "type": "quantitative"}, "y": {"field": "a3", "type": "quantitative"},
                          "size": {"field": "pop", "type": "quantitative", "scale": {"domain": [0, 45], "range": [0, 480]}, "legend": null}}},
            {"data": {"values": [{}]}, "mark": {"type": "text", "text": "ρ = -0.69", "fontSize": 18, "font": "DejaVu Sans", "color": "#111"},
             "encoding": {"x": {"datum": 0.936, "type": "quantitative"}, "y": {"datum": 0.728, "type": "quantitative"}}}
          ]
        }
      ]
    }
  ]
}
